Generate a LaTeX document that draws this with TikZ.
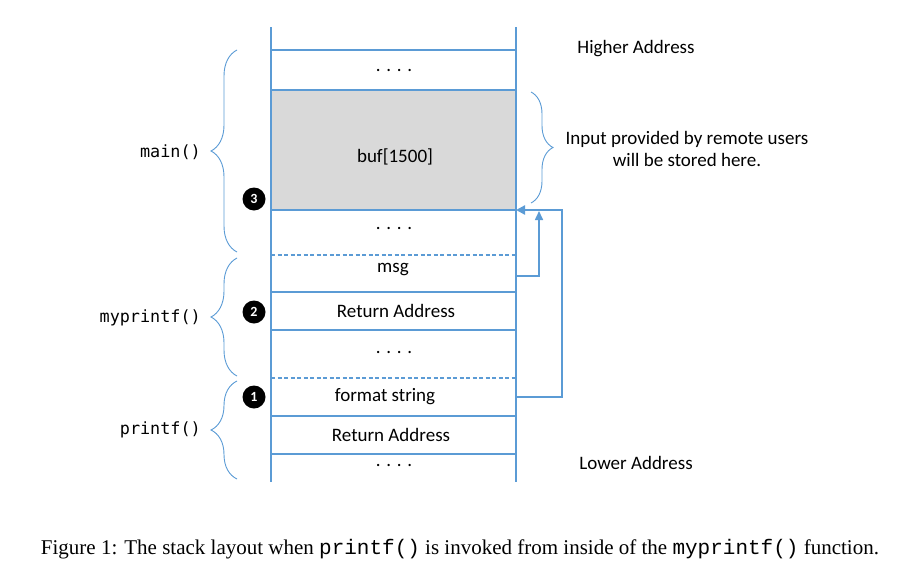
\documentclass[tikz,border=0pt]{standalone}
\usepackage{fontspec}
\setmainfont{Liberation Serif}
\newfontfamily\carlitofont{Carlito}
\newfontfamily\consfont{DejaVu Sans Mono}
\newfontfamily\capmonofont{Liberation Mono}
\usetikzlibrary{arrows.meta,decorations.pathreplacing}
\definecolor{sblue}{RGB}{91,155,213}
\definecolor{sgray}{RGB}{217,217,217}
\tikzset{
  stackline/.style={draw=sblue,line width=1.3pt},
  dashline/.style={draw=sblue,line width=1.3pt,dash pattern=on 4pt off 2.5pt},
  celltext/.style={font=\carlitofont\fontsize{19}{21}\selectfont,inner sep=0pt,anchor=center},
  sidetext/.style={font=\carlitofont\fontsize{19}{22}\selectfont,inner sep=0pt,align=center},
  functext/.style={font=\consfont\fontsize{16.8}{18}\selectfont,inner sep=0pt,anchor=east},
  bracestyle/.style={draw=sblue,line width=0.9pt,decorate,decoration={brace,amplitude=#1}},
  numcirc/.style={circle,fill=black,text=white,minimum size=23pt,inner sep=0pt,font=\carlitofont\bfseries\fontsize{14}{14}\selectfont},
  bigarrow/.style={draw=sblue,line width=2.4pt,-{Triangle[length=9pt,width=9pt]}},
  smallarrow/.style={draw=sblue,line width=1.6pt,-{Triangle[length=9pt,width=8pt]}},
}
\begin{document}
\begin{tikzpicture}[x=1pt,y=-1pt]
\useasboundingbox (0,0) rectangle (917,570);
% gray buffer
\fill[sgray] (271,90) rectangle (516,210);
% horizontal lines
\draw[stackline] (271,50) -- (516,50);
\draw[stackline] (271,90) -- (516,90);
\draw[stackline] (271,210) -- (516,210);
\draw[dashline] (271,255) -- (516,255);
\draw[stackline] (271,292) -- (516,292);
\draw[stackline] (271,330) -- (516,330);
\draw[dashline] (271,378) -- (516,378);
\draw[stackline] (271,416) -- (516,416);
\draw[stackline] (271,454) -- (516,454);
% vertical lines
\draw[stackline] (271,27) -- (271,482);
\draw[stackline] (516,27) -- (516,482);
% cell texts
\node[celltext] (d1) at (394,70) {. . . .};
\node[celltext] (buf) at (395,157) {buf[1500]};
\node[celltext] (d2) at (394,228) {. . . .};
\node[celltext] (msg) at (393,270) {msg};
\node[celltext] (ret2) at (396,311) {Return Address};
\node[celltext] (d3) at (394,352) {. . . .};
\node[celltext] (fmt) at (385,397) {format string};
\node[celltext] (ret1) at (391,435) {Return Address};
\node[celltext] (d4) at (394,465) {. . . .};
% side texts
\node[sidetext] (hi) at (636,49) {Higher Address};
\node[sidetext] (lo) at (636,463) {Lower Address};
\node[sidetext] (inp) at (687,149) {Input provided by remote users\\will be stored here.};
% function labels
\node[functext] (fmain) at (201,152) {main()};
\node[functext] (fmy) at (201,318) {myprintf()};
\node[functext] (fpr) at (201,430) {printf()};
% braces
\draw[bracestyle=26pt] (237,252) -- (237,50);
\draw[bracestyle=26pt] (237,376) -- (237,258);
\draw[bracestyle=26pt] (237,479) -- (237,381);
\draw[bracestyle=22pt] (531,92) -- (531,203);
% numbered circles
\node[numcirc] (n3) at (254,199) {3};
\node[numcirc] (n2) at (254,312) {2};
\node[numcirc] (n1) at (254,397) {1};
% arrows
\coordinate (fmtR) at (516,397);
\coordinate (msgR) at (516,276);
\coordinate (bufBR) at (516,210);
\coordinate (bigTop) at (562,210);
\coordinate (smallTop) at (539,211);
\draw[bigarrow] (fmtR) -| (bigTop) -- (bufBR);
\draw[smallarrow] (msgR) -| (smallTop);
% caption
\node[inner sep=0pt,font=\fontsize{21}{24}\selectfont] (cap) at (460,549)
  {Figure 1: The stack layout when {\capmonofont printf()} is invoked from inside of the {\capmonofont myprintf()} function.};
\end{tikzpicture}
\end{document}
